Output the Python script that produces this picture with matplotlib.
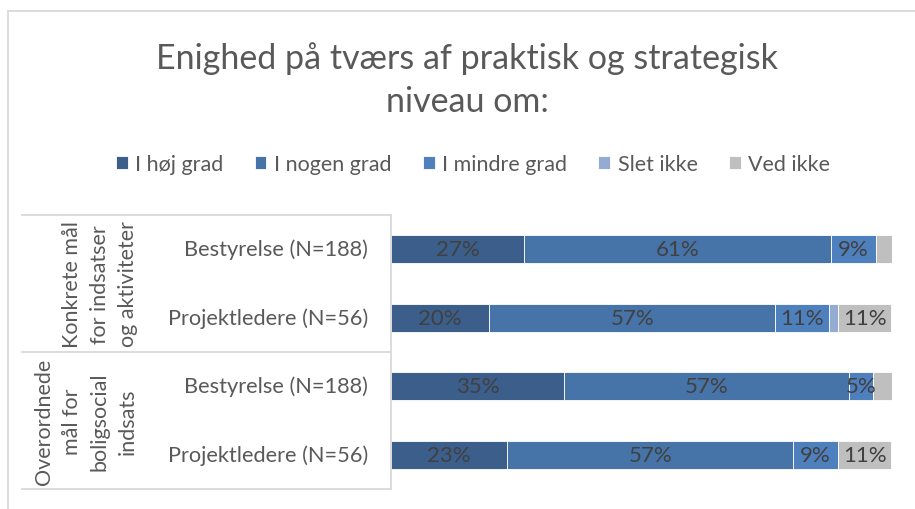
import matplotlib
matplotlib.use('Agg')
import matplotlib.pyplot as plt
from matplotlib.lines import Line2D
from matplotlib.patches import Rectangle
from matplotlib.transforms import blended_transform_factory

# ---------------- data ----------------
categories = ['Bestyrelse (N=188)', 'Projektledere (N=56)',
              'Bestyrelse (N=188)', 'Projektledere (N=56)']
groups = ['Konkrete mål\nfor indsatser\nog aktiviteter',
          'Overordnede\nmål for\nboligsocial\nindsats']
group_members = [[0, 1], [2, 3]]
series_names = ['I høj grad', 'I nogen grad', 'I mindre grad', 'Slet ikke', 'Ved ikke']
hoj_grad = [26.6, 19.6, 34.6, 23.2]
nogen_grad = [61.2, 57.1, 56.9, 57.1]
mindre_grad = [9.0, 10.7, 4.8, 8.9]
slet_ikke = [0.0, 1.8, 0.0, 0.0]
ved_ikke = [3.2, 10.7, 3.7, 10.7]
title = 'Enighed på tværs af praktisk og strategisk\nniveau om:'

series = [hoj_grad, nogen_grad, mindre_grad, slet_ikke, ved_ikke]
colors = ['#3B5E8B', '#4674A8', '#4E80BE', '#94ACD2', '#BFBFBF']

FONT = 'Lato'
TXT = '#595959'
GRID = '#D9D9D9'
W, H = 915, 510

fig = plt.figure(figsize=(W / 100, H / 100), dpi=100)
fig.patch.set_facecolor('white')

# chart border (only top/left visible in the crop)
fig.add_artist(Rectangle((7.5 / W, -0.2), 1.2, 1.2 - 11.5 / H,
                         transform=fig.transFigure, fill=False,
                         edgecolor=GRID, linewidth=1.3))

ax = fig.add_axes([391 / W, 1 - 490 / H, (892 - 391) / W, (490 - 215.7) / H])
ypos = list(range(len(categories)))
left = [0.0] * len(categories)
for name, vals, col in zip(series_names, series, colors):
    ax.barh(ypos, vals, left=left, height=0.41, color=col, label=name,
            edgecolor='white', linewidth=0.6)
    for y, v, l in zip(ypos, vals, left):
        if v >= 4:
            ax.text(l + v / 2, y, f'{round(v)}%', ha='center', va='center',
                    fontsize=16, color='#404040', family=FONT)
    left = [l + v for l, v in zip(left, vals)]

ax.set_xlim(0, 100)
ax.set_ylim(len(categories) - 0.5, -0.5)
ax.set_xticks([])
ax.set_yticks([])
for s in ['top', 'right', 'bottom']:
    ax.spines[s].set_visible(False)
ax.spines['left'].set_color(GRID)
ax.spines['left'].set_linewidth(1.3)

tr = blended_transform_factory(fig.transFigure, ax.transData)
for y, lab in zip(ypos, categories):
    ax.text(368 / W, y, lab, transform=tr, ha='right', va='center',
            fontsize=15.7, color=TXT, family=FONT)

for g, members in zip(groups, group_members):
    yc = sum(members) / len(members)
    ax.text(138 / W, yc, g, transform=tr, ha='right', va='center',
            rotation=90, multialignment='center', linespacing=1.5,
            fontsize=15.5, color=TXT, family=FONT)

bounds = [-0.5] + [m[-1] + 0.5 for m in group_members]
for b in bounds:
    fig.add_artist(Line2D([22 / W, 391 / W], [b, b], transform=tr,
                          color=GRID, linewidth=1.3, clip_on=False))

fig.text(467 / W, 1 - 80 / H, title, ha='center', va='center',
         fontsize=24.5, color=TXT, family=FONT,
         linespacing=1.45)

handles, labels = ax.get_legend_handles_labels()
leg = fig.legend(handles, labels, loc='center', ncol=5,
                 bbox_to_anchor=(473 / W, 1 - 165 / H), frameon=False,
                 prop={'family': FONT, 'size': 15.5},
                 handlelength=0.55, handleheight=0.55, handletextpad=0.35,
                 columnspacing=1.45)
for t in leg.get_texts():
    t.set_color(TXT)

fig.savefig('out.png', dpi=100, facecolor='white')
